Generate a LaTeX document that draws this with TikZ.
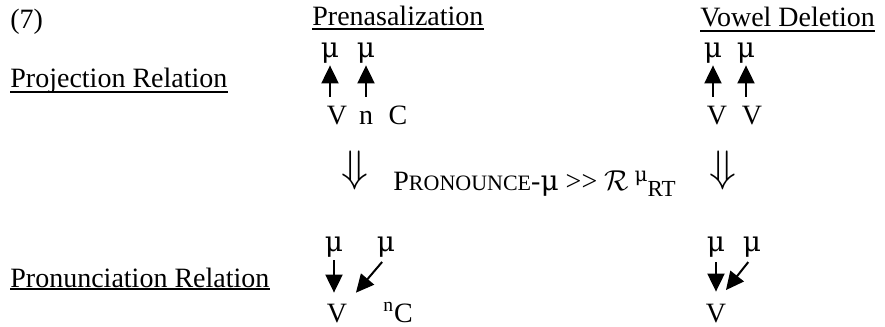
\documentclass[tikz,border=0pt]{standalone}
\usepackage{fontspec}
\setmainfont{Liberation Serif}
\newfontfamily\mufont{DejaVu Serif}
\usetikzlibrary{arrows.meta}

\begin{document}
\begin{tikzpicture}[x=0.5pt, y=-0.5pt,
  txt/.style = {inner sep=0pt, anchor=base west, font=\fontsize{14}{16}\selectfont},
  seg/.style = {inner sep=0pt, anchor=base, text height=9.5pt, text depth=0pt, font=\fontsize{14}{16}\selectfont},
  mora/.style = {inner sep=0pt, anchor=base, text height=6.5pt, text depth=3pt, font=\fontsize{14}{16}\mufont},
  proj/.style = {-{Triangle[length=9pt, width=8.5pt]}, line width=1pt, shorten <=4pt, shorten >=1pt},
  pron/.style = {-{Triangle[length=9pt, width=8.5pt]}, line width=1pt},
  dbl/.style = {scale=2.2, font=\fontsize{10}{12}\selectfont},
  uline/.style = {line width=0.7pt}]

\useasboundingbox (0,0) rectangle (885,327);

% headings
\node[txt] (num) at (10,28) {(7)};
\node[txt] (pre) at (312,25) {Prenasalization};
\node[txt] (del) at (700,26) {Vowel Deletion};
\node[txt] (projrel) at (10,87) {Projection Relation};
\node[txt] (pronrel) at (10,287) {Pronunciation Relation};

\draw[uline] ([yshift=-2pt]pre.base west) -- ([yshift=-2pt]pre.base east);
\draw[uline] ([yshift=-2.5pt]del.base west) -- ([yshift=-2.5pt]del.base east);
\draw[uline] ([yshift=-2.5pt]projrel.base west) -- ([yshift=-2.5pt]projrel.base east);
\draw[uline] ([yshift=-1pt]pronrel.base west) -- ([yshift=-1pt]pronrel.base east);

% projection, prenasalization
\node[mora] (mu1) at (330,57) {μ};
\node[mora] (mu2) at (366,57) {μ};
\node[seg] (v1) at (337,124) {V};
\node[seg] (n1) at (366,124) {n};
\node[seg] (c1) at (398,124) {C};

\draw[proj] (mu1 |- v1.north) -- (mu1.south);
\draw[proj] (mu2 |- n1.north) -- (mu2.south);

% projection, vowel deletion
\node[mora] (mu3) at (713,57) {μ};
\node[mora] (mu4) at (746,57) {μ};
\node[seg] (v3) at (717,124) {V};
\node[seg] (v4) at (752,124) {V};

\draw[proj] (mu3 |- v3.north) -- (mu3.south);
\draw[proj] (mu4 |- v4.north) -- (mu4.south);

% ranking
\node[dbl] (dl) at (355,170) {$\Downarrow$};
\node[dbl] (dr) at (723,170) {$\Downarrow$};
\node[txt] (rank) at (393,190) {P{\fontsize{11}{13}\selectfont RONOUNCE}-{\mufont μ} >\kern0pt> $\mathcal{R}$\hspace{3pt}\raisebox{4.5pt}{\fontsize{10}{12}\mufont μ}\raisebox{-3pt}{\fontsize{11.5}{13}\selectfont RT}};

% pronunciation, prenasalization
\node[mora] (mu5) at (334,251) {μ};
\node[mora] (mu6) at (386,251) {μ};
\node[seg] (v5) at (337,322) {V};
\node[seg] (c5) at (398,322) {\textsuperscript{n}C};

\draw[pron, shorten <=1.5pt, shorten >=5pt] (mu5.south) -- (mu5.south |- v5.north);
\draw[pron, shorten <=3pt, shorten >=6.5pt] (mu6.south) -- (v5.north east);

% pronunciation, vowel deletion
\node[mora] (mu7) at (716,251) {μ};
\node[mora] (mu8) at (752,251) {μ};
\node[seg] (v7) at (716,322) {V};

\draw[pron, shorten <=2.5pt, shorten >=5.5pt] (mu7.south) -- (mu7.south |- v7.north);
\draw[pron, shorten <=3pt, shorten >=8pt] (mu8.south) -- (v7.north);

\end{tikzpicture}
\end{document}
